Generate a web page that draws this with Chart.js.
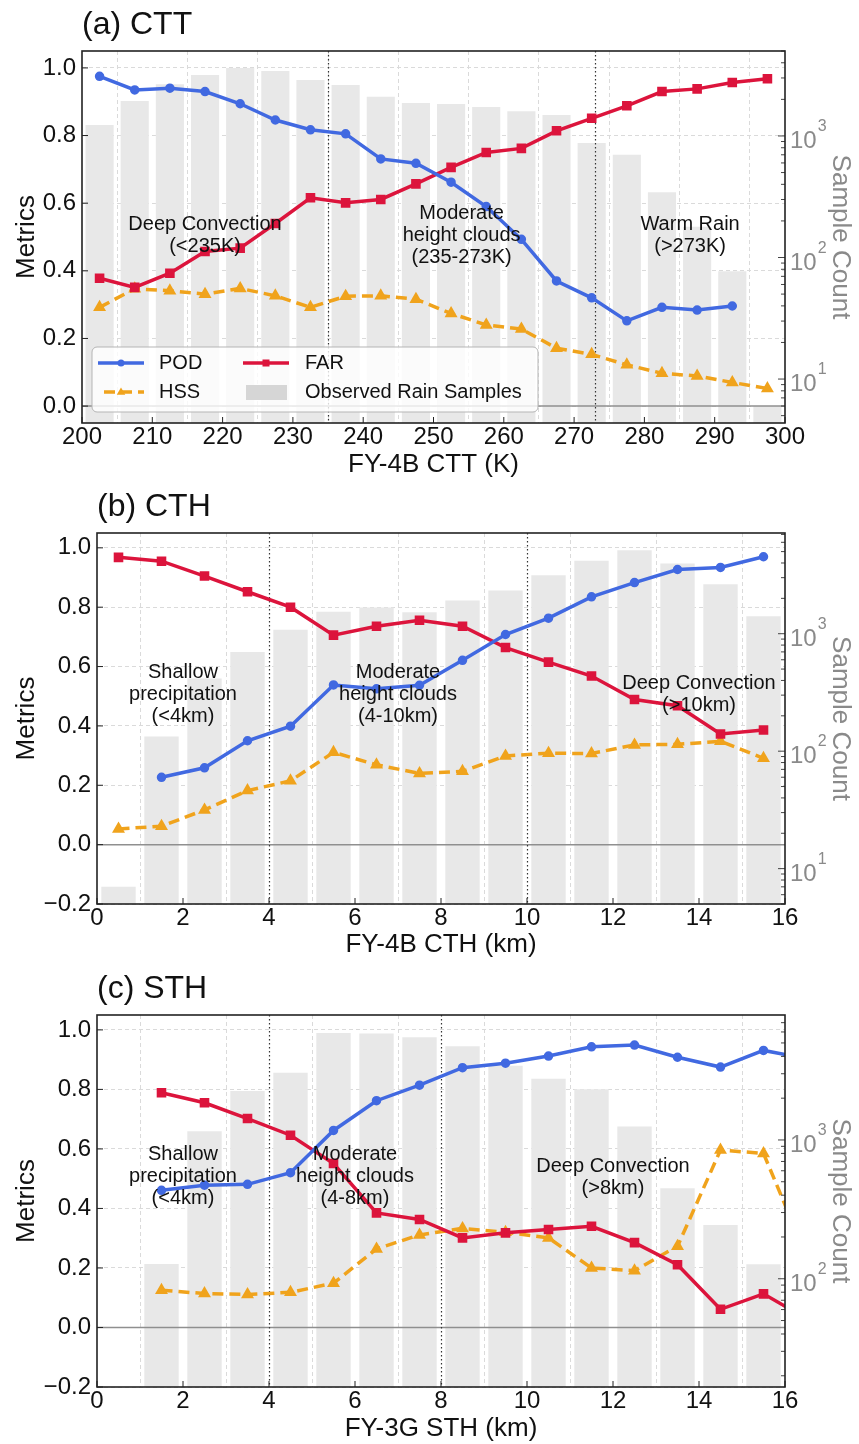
<!DOCTYPE html>
<html>
<head>
<meta charset="utf-8">
<title>POD / FAR / HSS by cloud property</title>
<script src="https://cdn.jsdelivr.net/npm/chart.js@4.4.1/dist/chart.umd.min.js"></script>
<style>
  body { margin: 0; background: #fff; }
  #wrap { position: relative; width: 859px; height: 1444px; }
  canvas { position: absolute; left: 0; }
</style>
</head>
<body>
<div id="wrap">
  <canvas id="panelA" width="859" height="480" style="top:0"></canvas>
  <canvas id="panelB" width="859" height="480" style="top:480px"></canvas>
  <canvas id="panelC" width="859" height="484" style="top:960px"></canvas>
</div>
<script>
// (a) cloud top temperature, 5 K bins
var cttBins = [202.5, 207.5, 212.5, 217.5, 222.5, 227.5, 232.5, 237.5, 242.5, 247.5, 252.5, 257.5, 262.5, 267.5, 272.5, 277.5, 282.5, 287.5, 292.5, 297.5]
var cttPOD = [0.975, 0.935, 0.94, 0.93, 0.894, 0.846, 0.817, 0.805, 0.731, 0.718, 0.662, 0.59, 0.493, 0.37, 0.32, 0.252, 0.292, 0.284, 0.296, null]
var cttFAR = [0.378, 0.351, 0.393, 0.457, 0.467, 0.54, 0.616, 0.601, 0.611, 0.657, 0.706, 0.75, 0.762, 0.814, 0.851, 0.888, 0.93, 0.938, 0.957, 0.968]
var cttHSS = [0.292, 0.347, 0.341, 0.331, 0.348, 0.326, 0.292, 0.325, 0.326, 0.316, 0.274, 0.24, 0.228, 0.171, 0.153, 0.122, 0.097, 0.089, 0.07, 0.052]
var cttCount = [1230, 1940, 2660, 3170, 3630, 3430, 2890, 2630, 2100, 1870, 1830, 1730, 1600, 1490, 876, 700, 345, 179, 77, 6]
var cttCountTicks = [10, 100, 1000]

// (b) cloud top height, 1 km bins
var cthBins = [0.5, 1.5, 2.5, 3.5, 4.5, 5.5, 6.5, 7.5, 8.5, 9.5, 10.5, 11.5, 12.5, 13.5, 14.5, 15.5]
var cthPOD = [null, 0.227, 0.259, 0.35, 0.399, 0.538, 0.525, 0.537, 0.621, 0.708, 0.763, 0.835, 0.883, 0.927, 0.934, 0.97]
var cthFAR = [0.968, 0.955, 0.905, 0.852, 0.8, 0.706, 0.736, 0.756, 0.736, 0.664, 0.615, 0.568, 0.489, 0.468, 0.373, 0.386]
var cthHSS = [0.053, 0.062, 0.117, 0.182, 0.215, 0.311, 0.269, 0.24, 0.247, 0.299, 0.308, 0.307, 0.336, 0.338, 0.348, 0.291]
var cthCount = [7, 133, 415, 700, 1080, 1540, 1670, 1520, 1920, 2330, 3150, 4170, 5140, 3960, 2640, 1410]
var cthCountTicks = [10, 100, 1000]

// (c) storm top height, 1 km bins
var sthBins = [0.5, 1.5, 2.5, 3.5, 4.5, 5.5, 6.5, 7.5, 8.5, 9.5, 10.5, 11.5, 12.5, 13.5, 14.5, 15.5, 16.5]
var sthPOD = [null, 0.461, 0.478, 0.481, 0.52, 0.662, 0.762, 0.814, 0.873, 0.888, 0.912, 0.943, 0.949, 0.908, 0.875, 0.931, 0.903]
var sthFAR = [null, 0.789, 0.755, 0.702, 0.646, 0.551, 0.385, 0.363, 0.301, 0.318, 0.329, 0.34, 0.285, 0.211, 0.061, 0.113, 0.029]
var sthHSS = [null, 0.125, 0.114, 0.111, 0.118, 0.149, 0.264, 0.311, 0.333, 0.32, 0.301, 0.2, 0.191, 0.273, 0.596, 0.585, 0.24]
var sthCount = [null, 128, 1155, 2250, 3050, 5900, 5840, 5490, 4740, 3430, 2760, 2320, 1250, 448, 244, 127, null]
var sthCountTicks = [100, 1000]

var FONT = '"Liberation Sans", Arial, sans-serif'
var POD_COLOR = '#4169e1'
var FAR_COLOR = '#dc143c'
var HSS_COLOR = '#f0a31c'
var BAR_COLOR = '#e8e8e8'
var GRID_COLOR = '#dadada'
var SIDE_GRAY = '#8a8a8a'
var W = 859

function toPoints (xs, ys) {
  var pts = []
  for (var i = 0; i < xs.length; i++) {
    if (ys[i] !== null) pts.push({ x: xs[i], y: ys[i] })
  }
  return pts
}

function fmtMetric (v) {
  if (Math.abs(v) < 1e-9) return '0.0'
  return v.toFixed(1).replace('-', '\u2212')
}

function hline (ctx, x1, x2, y) {
  ctx.beginPath()
  ctx.moveTo(x1, y)
  ctx.lineTo(x2, y)
  ctx.stroke()
}

function vline (ctx, x, y1, y2) {
  ctx.beginPath()
  ctx.moveTo(x, y1)
  ctx.lineTo(x, y2)
  ctx.stroke()
}

function drawGuides (chart, p) {
  var ctx = chart.ctx
  var a = chart.chartArea
  var xs = chart.scales.x
  var ys = chart.scales.y
  ctx.save()
  ctx.strokeStyle = '#8f8f8f'
  ctx.lineWidth = 1.5
  hline(ctx, a.left, a.right, ys.getPixelForValue(0))
  ctx.strokeStyle = '#333'
  ctx.lineWidth = 1.2
  ctx.setLineDash([1.5, 2.5])
  p.splits.forEach(function (s) {
    vline(ctx, Math.round(xs.getPixelForValue(s)) + 0.5, a.top, a.bottom)
  })
  ctx.restore()
}

function drawTicksIn (chart) {
  var ctx = chart.ctx
  var a = chart.chartArea
  var xs = chart.scales.x
  var ys = chart.scales.y
  var cs = chart.scales.y2
  ctx.save()
  ctx.strokeStyle = '#222'
  ctx.lineWidth = 1
  ys.ticks.forEach(function (t) {
    hline(ctx, a.left, a.left + 6, ys.getPixelForValue(t.value))
  })
  xs.ticks.forEach(function (t) {
    vline(ctx, xs.getPixelForValue(t.value), a.bottom, a.bottom - 6)
  })
  // log minor ticks on the right spine
  ctx.strokeStyle = '#444'
  var lo = Math.floor(Math.log10(cs.min))
  var hi = Math.ceil(Math.log10(cs.max))
  for (var n = lo; n <= hi; n++) {
    for (var k = 1; k < 10; k++) {
      var v = k * Math.pow(10, n)
      if (v < cs.min || v > cs.max) continue
      var len = k === 1 ? 7 : 4
      hline(ctx, a.right - len, a.right, cs.getPixelForValue(v))
    }
  }
  ctx.restore()
}

function drawCountLabels (chart, p) {
  var ctx = chart.ctx
  var a = chart.chartArea
  var cs = chart.scales.y2
  ctx.save()
  ctx.fillStyle = SIDE_GRAY
  ctx.textAlign = 'left'
  ctx.textBaseline = 'alphabetic'
  p.countTicks.forEach(function (v) {
    var y = cs.getPixelForValue(v)
    var x = a.right + 5
    ctx.font = '24px ' + FONT
    ctx.fillText('10', x, y + 12)
    var w = ctx.measureText('10').width
    ctx.font = '16px ' + FONT
    ctx.fillText(String(Math.round(Math.log10(v))), x + w + 1, y - 5)
  })
  ctx.restore()
}

function drawNotes (chart, p) {
  var ctx = chart.ctx
  var xs = chart.scales.x
  var ys = chart.scales.y
  ctx.save()
  ctx.fillStyle = '#111'
  ctx.font = '20px ' + FONT
  ctx.textAlign = 'center'
  ctx.textBaseline = 'middle'
  p.notes.forEach(function (n) {
    var x = xs.getPixelForValue(n.x)
    var y = ys.getPixelForValue(n.y)
    n.lines.forEach(function (t, i) {
      ctx.fillText(t, x, y + i * 22)
    })
  })
  ctx.restore()
}

function drawTriangle (ctx, x, y, r) {
  ctx.beginPath()
  ctx.moveTo(x, y - r)
  ctx.lineTo(x + r * 0.95, y + r * 0.6)
  ctx.lineTo(x - r * 0.95, y + r * 0.6)
  ctx.closePath()
  ctx.fill()
}

function drawLegend (chart) {
  var ctx = chart.ctx
  var a = chart.chartArea
  var bx = a.left + 10
  var by = a.bottom - 76
  var r1 = a.bottom - 60
  var r2 = a.bottom - 31
  ctx.save()
  ctx.beginPath()
  ctx.roundRect(bx, by, 446, 65, 5)
  ctx.fillStyle = 'rgba(255,255,255,0.8)'
  ctx.fill()
  ctx.strokeStyle = '#b5b5b5'
  ctx.lineWidth = 1
  ctx.stroke()

  ctx.lineWidth = 3.5
  ctx.strokeStyle = POD_COLOR
  ctx.fillStyle = POD_COLOR
  hline(ctx, bx + 6, bx + 52, r1)
  ctx.beginPath()
  ctx.arc(bx + 29, r1, 3.5, 0, Math.PI * 2)
  ctx.fill()

  ctx.strokeStyle = FAR_COLOR
  ctx.fillStyle = FAR_COLOR
  hline(ctx, bx + 151, bx + 197, r1)
  ctx.fillRect(bx + 170.5, r1 - 3.5, 7, 7)

  ctx.strokeStyle = HSS_COLOR
  ctx.fillStyle = HSS_COLOR
  ctx.setLineDash([11, 6])
  ctx.lineDashOffset = -6
  hline(ctx, bx + 6, bx + 52, r2)
  ctx.setLineDash([])
  drawTriangle(ctx, bx + 29, r2, 4.5)

  ctx.fillStyle = '#d6d6d6'
  ctx.fillRect(bx + 154, r2 - 7, 41, 15)

  ctx.fillStyle = '#111'
  ctx.font = '20px ' + FONT
  ctx.textAlign = 'left'
  ctx.textBaseline = 'middle'
  ctx.fillText('POD', bx + 67, r1)
  ctx.fillText('FAR', bx + 213, r1)
  ctx.fillText('HSS', bx + 67, r2)
  ctx.fillText('Observed Rain Samples', bx + 213, r2)
  ctx.restore()
}

function makeExtras (p) {
  return {
    id: 'panelExtras',
    afterDatasetDraw: function (chart, args) {
      if (args.meta.type === 'bar') drawGuides(chart, p)
    },
    afterDraw: function (chart) {
      var ctx = chart.ctx
      var a = chart.chartArea
      drawTicksIn(chart)
      ctx.save()
      ctx.strokeStyle = '#222'
      ctx.lineWidth = 1.6
      ctx.strokeRect(a.left, a.top, a.right - a.left, a.bottom - a.top)
      ctx.fillStyle = '#111'
      ctx.font = '32px ' + FONT
      ctx.textAlign = 'left'
      ctx.textBaseline = 'middle'
      ctx.fillText(p.title, a.left, a.top - 26)
      ctx.restore()
      drawCountLabels(chart, p)
      drawNotes(chart, p)
      if (p.legend) drawLegend(chart)
    }
  }
}

function makePanel (id, p) {
  var tickFont = { family: FONT, size: 24 }
  var titleFont = { family: FONT, size: 26 }
  return new Chart(document.getElementById(id), {
    type: 'line',
    data: {
      datasets: [
        {
          label: 'POD',
          data: toPoints(p.bins, p.pod),
          yAxisID: 'y',
          borderColor: POD_COLOR,
          backgroundColor: POD_COLOR,
          pointBorderColor: POD_COLOR,
          borderWidth: 3.5,
          pointStyle: 'circle',
          pointRadius: 3,
          tension: 0,
          clip: 0,
          order: 1
        },
        {
          label: 'FAR',
          data: toPoints(p.bins, p.far),
          yAxisID: 'y',
          borderColor: FAR_COLOR,
          backgroundColor: FAR_COLOR,
          pointBorderColor: FAR_COLOR,
          borderWidth: 3.5,
          pointStyle: 'rect',
          pointRadius: 4.3,
          tension: 0,
          clip: 0,
          order: 2
        },
        {
          label: 'HSS',
          data: toPoints(p.bins, p.hss),
          yAxisID: 'y',
          borderColor: HSS_COLOR,
          backgroundColor: HSS_COLOR,
          pointBorderColor: HSS_COLOR,
          borderWidth: 3.5,
          borderDash: [11, 6],
          pointStyle: 'triangle',
          pointRadius: 4,
          tension: 0,
          clip: 0,
          order: 3
        },
        {
          type: 'bar',
          label: 'Observed Rain Samples',
          data: toPoints(p.bins, p.count),
          yAxisID: 'y2',
          backgroundColor: BAR_COLOR,
          borderWidth: 0,
          barPercentage: 0.8,
          categoryPercentage: 1,
          grouped: false,
          order: 4
        }
      ]
    },
    options: {
      responsive: false,
      animation: false,
      devicePixelRatio: 1,
      events: [],
      layout: { padding: { top: p.plot.top, left: 0, right: 0, bottom: 0 } },
      plugins: {
        legend: { display: false },
        tooltip: { enabled: false }
      },
      scales: {
        x: {
          type: 'linear',
          position: 'bottom',
          min: p.xMin,
          max: p.xMax,
          offset: false,
          ticks: {
            stepSize: p.xStep,
            autoSkip: false,
            maxRotation: 0,
            color: '#111',
            font: tickFont,
            padding: 0,
            callback: function (v) { return String(v) }
          },
          grid: { color: GRID_COLOR, lineWidth: 1, drawTicks: false },
          border: { display: false, dash: [4, 3] },
          title: { display: true, text: p.xTitle, color: '#111', font: titleFont, padding: { top: 0, bottom: 0 } },
          afterFit: function (s) { s.height = p.height - p.plot.bottom }
        },
        y: {
          type: 'linear',
          position: 'left',
          min: p.yMin,
          max: p.yMax,
          ticks: {
            stepSize: 0.2,
            includeBounds: false,
            color: '#111',
            font: tickFont,
            padding: 6,
            callback: fmtMetric
          },
          grid: { color: GRID_COLOR, lineWidth: 1, drawTicks: false },
          border: { display: false, dash: [4, 3] },
          title: { display: true, text: 'Metrics', color: '#111', font: titleFont, padding: { top: 11, bottom: 0 } },
          afterFit: function (s) { s.width = p.plot.left }
        },
        y2: {
          type: 'logarithmic',
          position: 'right',
          min: p.cMin,
          max: p.cMax,
          ticks: { display: false },
          grid: { display: false, drawTicks: false },
          border: { display: false },
          title: { display: true, text: 'Sample Count', color: SIDE_GRAY, font: titleFont, padding: { top: 3, bottom: 0 } },
          afterFit: function (s) { s.width = W - p.plot.right }
        }
      }
    },
    plugins: [makeExtras(p)]
  })
}

makePanel('panelA', {
  title: '(a) CTT',
  xTitle: 'FY-4B CTT (K)',
  bins: cttBins, pod: cttPOD, far: cttFAR, hss: cttHSS, count: cttCount,
  countTicks: cttCountTicks,
  xMin: 200, xMax: 300, xStep: 10,
  yMin: -0.05, yMax: 1.05,
  cMin: 4.35, cMax: 5000,
  splits: [235, 273],
  notes: [
    { x: 217.5, y: 0.538, lines: ['Deep Convection', '(<235K)'] },
    { x: 254, y: 0.571, lines: ['Moderate', 'height clouds', '(235-273K)'] },
    { x: 286.5, y: 0.538, lines: ['Warm Rain', '(>273K)'] }
  ],
  legend: true,
  height: 480,
  plot: { left: 82, right: 785, top: 51, bottom: 423 }
})

makePanel('panelB', {
  title: '(b) CTH',
  xTitle: 'FY-4B CTH (km)',
  bins: cthBins, pod: cthPOD, far: cthFAR, hss: cthHSS, count: cthCount,
  countTicks: cthCountTicks,
  xMin: 0, xMax: 16, xStep: 2,
  yMin: -0.2, yMax: 1.05,
  cMin: 5, cMax: 7200,
  splits: [4, 10],
  notes: [
    { x: 2, y: 0.581, lines: ['Shallow', 'precipitation', '(<4km)'] },
    { x: 7, y: 0.581, lines: ['Moderate', 'height clouds', '(4-10km)'] },
    { x: 14, y: 0.544, lines: ['Deep Convection', '(>10km)'] }
  ],
  legend: false,
  height: 480,
  plot: { left: 97, right: 785, top: 53, bottom: 424 }
})

makePanel('panelC', {
  title: '(c) STH',
  xTitle: 'FY-3G STH (km)',
  bins: sthBins, pod: sthPOD, far: sthFAR, hss: sthHSS, count: sthCount,
  countTicks: sthCountTicks,
  xMin: 0, xMax: 16, xStep: 2,
  yMin: -0.2, yMax: 1.05,
  cMin: 16.6, cMax: 7950,
  splits: [4, 8],
  notes: [
    { x: 2, y: 0.581, lines: ['Shallow', 'precipitation', '(<4km)'] },
    { x: 6, y: 0.581, lines: ['Moderate', 'height clouds', '(4-8km)'] },
    { x: 12, y: 0.541, lines: ['Deep Convection', '(>8km)'] }
  ],
  legend: false,
  height: 484,
  plot: { left: 97, right: 785, top: 55, bottom: 427 }
})
</script>
</body>
</html>
